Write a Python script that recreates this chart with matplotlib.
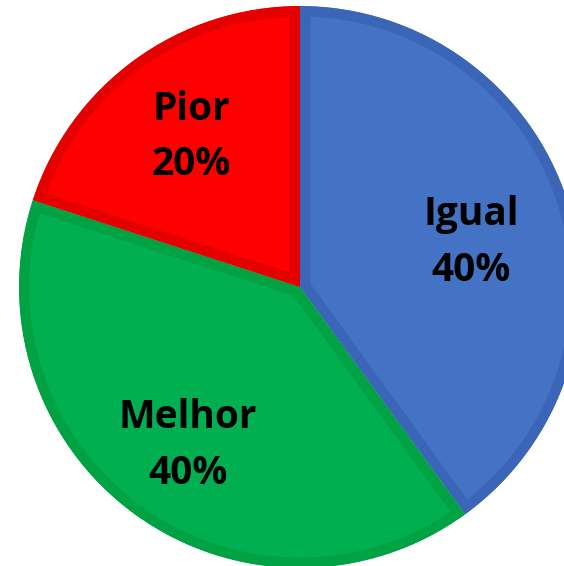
import matplotlib.pyplot as plt
from matplotlib.patches import Wedge

# Data
labels = ["Igual", "Melhor", "Pior"]
values = [40, 40, 20]
colors = ["#4472C4", "#00B050", "#FF0000"]
edge_colors = ["#3B66B8", "#00A243", "#E50000"]

plt.rcParams['font.family'] = ['Open Sans', 'DejaVu Sans']

fig = plt.figure(figsize=(5.64, 5.66), dpi=100)
ax = fig.add_axes([0, 0, 1, 1])

texts = [f"{l}\n{v}%" for l, v in zip(labels, values)]
wedges, txts = ax.pie(values, labels=texts, colors=colors, startangle=90,
                      counterclock=False, radius=1, labeldistance=0.66,
                      wedgeprops=dict(linewidth=15), textprops=dict(
                          fontsize=28, fontweight='bold', color='black',
                          ha='center', va='center', linespacing=1.55))

# inner border: thick edge clipped to a copy of the wedge
for w, ec in zip(wedges, edge_colors):
    w.set_edgecolor(ec)
    clip = Wedge(w.center, w.r, w.theta1, w.theta2, transform=ax.transData)
    w.set_clip_on(True)
    w.set_clip_path(clip)

# nudge labels to where the original puts them
x, y = txts[0].get_position()
txts[0].set_position((x - 0.02, y - 0.045))
x, y = txts[1].get_position()
txts[1].set_position((x - 0.01, y - 0.03))

ax.set_aspect('auto')
ax.set_xlim(-300 / 281, 264 / 281)
ax.set_ylim(-279 / 281, 287 / 281)
ax.axis('off')

plt.savefig("out.png", dpi=100)
